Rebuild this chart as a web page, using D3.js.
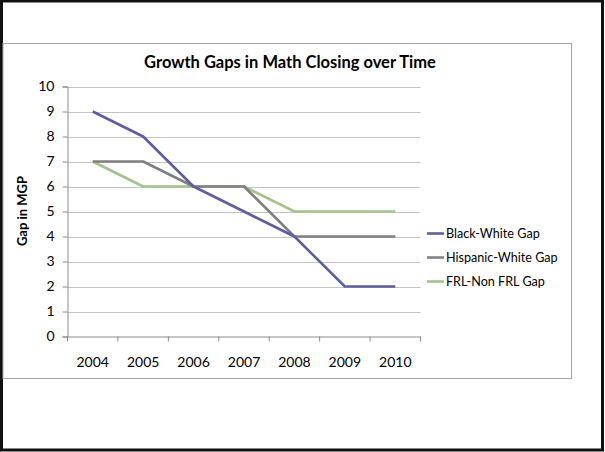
<!DOCTYPE html>
<html>
<head>
<meta charset="utf-8">
<script src="https://cdn.jsdelivr.net/npm/d3@7"></script>
<style>
  html, body { margin: 0; padding: 0; background: #fff; }
  svg { display: block; font-family: Lato, "Open Sans", sans-serif; }
</style>
</head>
<body>
<svg id="chart" width="605" height="452"></svg>
<script>
// Gap in median growth percentile, by year
const years = ["2004", "2005", "2006", "2007", "2008", "2009", "2010"];
const blackWhite = [9, 8, 6, 5, 4, 2, 2];
const hispanicWhite = [7, 7, 6, 6, 4, 4, 4];
const frlNonFrl = [7, 6, 6, 6, 5, 5, 5];
const seriesNames = ["Black-White Gap", "Hispanic-White Gap", "FRL-Non FRL Gap"];
const yTicks = [0, 1, 2, 3, 4, 5, 6, 7, 8, 9, 10];

const series = [
  { name: seriesNames[0], values: blackWhite, color: "#5e5e9e" },
  { name: seriesNames[1], values: hispanicWhite, color: "#808080" },
  { name: seriesNames[2], values: frlNonFrl, color: "#a3c38a" }
];

const svg = d3.select("#chart");

// outer frame
svg.append("rect")
  .attr("x", 1.5).attr("y", 1).attr("width", 601).attr("height", 449)
  .attr("fill", "#fff").attr("stroke", "#111").attr("stroke-width", 3);

// chart area frame
svg.append("rect")
  .attr("x", 3).attr("y", 43.5).attr("width", 568.5).attr("height", 335)
  .attr("fill", "#fff").attr("stroke", "#a6a6a6").attr("stroke-width", 1);

const plot = { left: 67.5, right: 420.5, top: 86.5, bottom: 336.5 };

const x = d3.scaleBand().domain(years).range([plot.left, plot.right]);
const y = d3.scaleLinear().domain([0, 10]).range([plot.bottom, plot.top]);

// gridlines
svg.append("g")
  .selectAll("line")
  .data(yTicks.filter(d => d > 0))
  .join("line")
  .attr("x1", plot.left).attr("x2", plot.right)
  .attr("y1", d => Math.round(y(d)) + 0.5).attr("y2", d => Math.round(y(d)) + 0.5)
  .attr("stroke", "#c4c4c4").attr("stroke-width", 1);

// y axis
const yAxis = svg.append("g")
  .attr("transform", `translate(${plot.left},0)`)
  .call(d3.axisLeft(y).tickValues(yTicks).tickSize(5).tickPadding(8));
yAxis.select(".domain").attr("stroke", "#8c8c8c");
yAxis.selectAll(".tick line").attr("stroke", "#8c8c8c");
yAxis.selectAll("text")
  .attr("font-size", "14px").attr("fill", "#000")
  .style("font-family", "Lato, 'Open Sans', sans-serif");

// x axis with ticks on band boundaries
const xAxis = svg.append("g")
  .attr("transform", `translate(0,${plot.bottom})`)
  .call(d3.axisBottom(x).tickSize(0).tickPadding(21));
xAxis.select(".domain").attr("stroke", "#8c8c8c");
xAxis.selectAll("text")
  .attr("font-size", "14px").attr("fill", "#000")
  .style("font-family", "Lato, 'Open Sans', sans-serif");
xAxis.selectAll(".boundary")
  .data(years.map(d => x(d)).concat([x(years[years.length - 1]) + x.bandwidth()]))
  .join("line")
  .attr("class", "boundary")
  .attr("x1", d => d).attr("x2", d => d)
  .attr("y1", 0).attr("y2", 5)
  .attr("stroke", "#8c8c8c");

// series lines
const line = d3.line()
  .x((d, i) => x(years[i]) + x.bandwidth() / 2)
  .y(d => y(d));

svg.append("g")
  .selectAll("path")
  .data(series.slice().reverse())
  .join("path")
  .attr("d", d => line(d.values))
  .attr("fill", "none")
  .attr("stroke", d => d.color)
  .attr("stroke-width", 2.6)
  .attr("stroke-linejoin", "round");

// title
svg.append("text")
  .attr("x", 290).attr("y", 68)
  .attr("text-anchor", "middle")
  .attr("font-size", "16.5px").attr("font-weight", "bold")
  .text("Growth Gaps in Math Closing over Time");

// y axis title
svg.append("text")
  .attr("transform", "translate(26.5,211) rotate(-90)")
  .attr("text-anchor", "middle")
  .attr("font-size", "13px").attr("font-weight", "bold")
  .text("Gap in MGP");

// legend
const legend = svg.append("g")
  .selectAll("g")
  .data(series)
  .join("g")
  .attr("transform", (d, i) => `translate(427,${233.5 + i * 24})`);
legend.append("line")
  .attr("x1", 0).attr("x2", 17)
  .attr("stroke", d => d.color).attr("stroke-width", 2.6);
legend.append("text")
  .attr("x", 19).attr("dy", "0.35em")
  .attr("font-size", "12.6px")
  .text(d => d.name);
</script>
</body>
</html>
